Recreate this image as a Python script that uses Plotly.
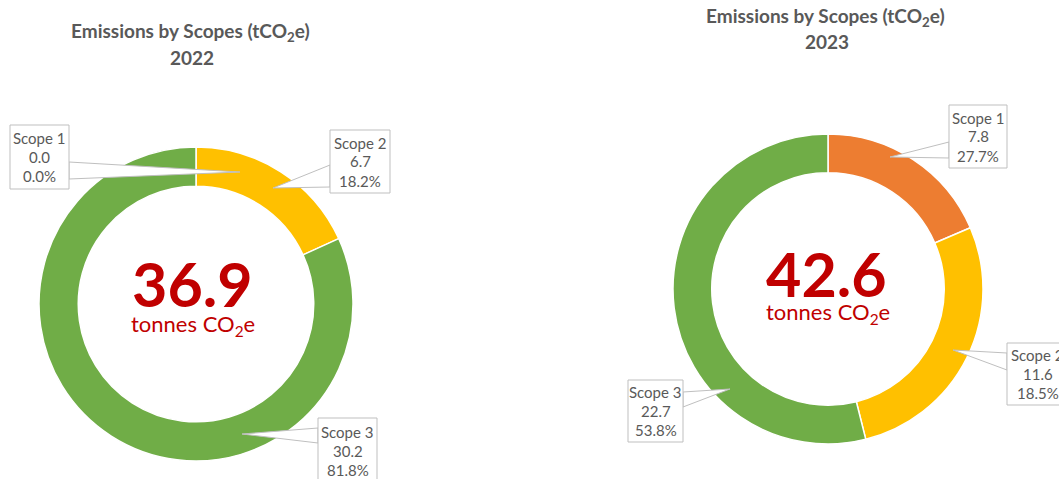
import plotly.graph_objects as go

W, H = 1059, 479

# ---------------- data ----------------
years = ["2022", "2023"]
scopes = ["Scope 1", "Scope 2", "Scope 3"]
values_2022 = [0.0, 6.7, 30.2]
values_2023 = [7.8, 11.6, 22.7]
pct_labels_2022 = ["0.0%", "18.2%", "81.8%"]
pct_labels_2023 = ["27.7%", "18.5%", "53.8%"]
totals = ["36.9", "42.6"]
colors = ["#ED7D31", "#FFC000", "#70AD47"]

GRAY = "#595959"
RED = "#C00000"
FONT = "Lato"


def px(x):
    return x / W


def py(y):
    return 1 - y / H


fig = go.Figure()

# pie geometry (pixels): center x, center y, radius
pies = [(196, 304, 157), (828, 289, 155)]
series = [values_2022, values_2023]

for (cx, cy, r), vals, yr in zip(pies, series, years):
    fig.add_trace(go.Pie(
        labels=scopes,
        values=vals,
        hole=0.75,
        sort=False,
        direction="clockwise",
        rotation=0,
        textinfo="none",
        hoverinfo="label+value+percent",
        marker=dict(colors=colors, line=dict(color="white", width=1.5)),
        domain=dict(x=[px(cx - r), px(cx + r)], y=[py(cy + r), py(cy - r)]),
        showlegend=False,
        name=yr,
    ))

annotations = []
shapes = []

# titles
title_pos = [(190, 32, 57), (825, 17, 42)]
for (tx, ty1, ty2), yr in zip(title_pos, years):
    annotations.append(dict(x=px(tx), y=py(ty1), xref="paper", yref="paper",
                            text="<b>Emissions by Scopes (tCO<sub>2</sub>e)</b>",
                            showarrow=False, font=dict(family=FONT, size=19, color=GRAY),
                            xanchor="center", yanchor="middle"))
    annotations.append(dict(x=px(tx + 2), y=py(ty2), xref="paper", yref="paper",
                            text=f"<b>{yr}</b>",
                            showarrow=False, font=dict(family=FONT, size=19, color=GRAY),
                            xanchor="center", yanchor="middle"))

# center totals
center_pos = [(192, 283, 325), (827, 273, 313)]
for (tx, y1, y2), tot in zip(center_pos, totals):
    annotations.append(dict(x=px(tx), y=py(y1), xref="paper", yref="paper",
                            text=f"<b>{tot}</b>", showarrow=False,
                            font=dict(family=FONT, size=61, color=RED),
                            xanchor="center", yanchor="middle"))
    annotations.append(dict(x=px(tx + 1), y=py(y2), xref="paper", yref="paper",
                            text="tonnes CO<sub>2</sub>e", showarrow=False,
                            font=dict(family=FONT, size=22, color=RED),
                            xanchor="center", yanchor="middle"))

# callout boxes: (box x0, y0, x1, y1), tip (x, y), side, base (ya, yb)
callouts_2022 = [
    ((10, 125, 69, 189), (240, 172), "right", (162, 179)),
    ((330, 130, 390, 193), (273, 188), "left", (165, 187)),
    ((318, 418, 377, 483), (242, 434), "left", (428, 443)),
]
callouts_2023 = [
    ((949, 105, 1007, 168), (890, 157), "left", (142, 158)),
    ((1007, 343, 1068, 405), (953, 350), "left", (353, 370)),
    ((628, 380, 683, 442), (730, 389), "right", (392, 407)),
]

for callouts, vals, pcts in [(callouts_2022, values_2022, pct_labels_2022),
                             (callouts_2023, values_2023, pct_labels_2023)]:
    for (box, tip, side, base), name, v, p in zip(callouts, scopes, vals, pcts):
        x0, y0, x1, y1 = box
        bx = x1 if side == "right" else x0
        path = (f"M {px(bx)},{py(base[0])} L {px(tip[0])},{py(tip[1])} "
                f"L {px(bx)},{py(base[1])} Z")
        shapes.append(dict(type="path", path=path, xref="paper", yref="paper",
                           fillcolor="white", line=dict(color="#BFBFBF", width=1),
                           layer="above"))
        shapes.append(dict(type="rect", xref="paper", yref="paper",
                           x0=px(x0), x1=px(x1), y0=py(y1), y1=py(y0),
                           fillcolor="white", line=dict(color="#BFBFBF", width=1),
                           layer="above"))
        cxm = (x0 + x1) / 2
        cym = (y0 + y1) / 2
        for i, t in enumerate([name, f"{v:.1f}", p]):
            annotations.append(dict(x=px(cxm), y=py(cym + (i - 1) * 19), xref="paper",
                                    yref="paper", text=t, showarrow=False,
                                    font=dict(family=FONT, size=15, color=GRAY),
                                    xanchor="center", yanchor="middle"))

fig.update_layout(
    width=W, height=H,
    margin=dict(l=0, r=0, t=0, b=0),
    paper_bgcolor="white", plot_bgcolor="white",
    annotations=annotations,
    shapes=shapes,
)

fig.write_html("out.html", config={"displayModeBar": False},
               post_script="document.body.style.margin='0px';")
